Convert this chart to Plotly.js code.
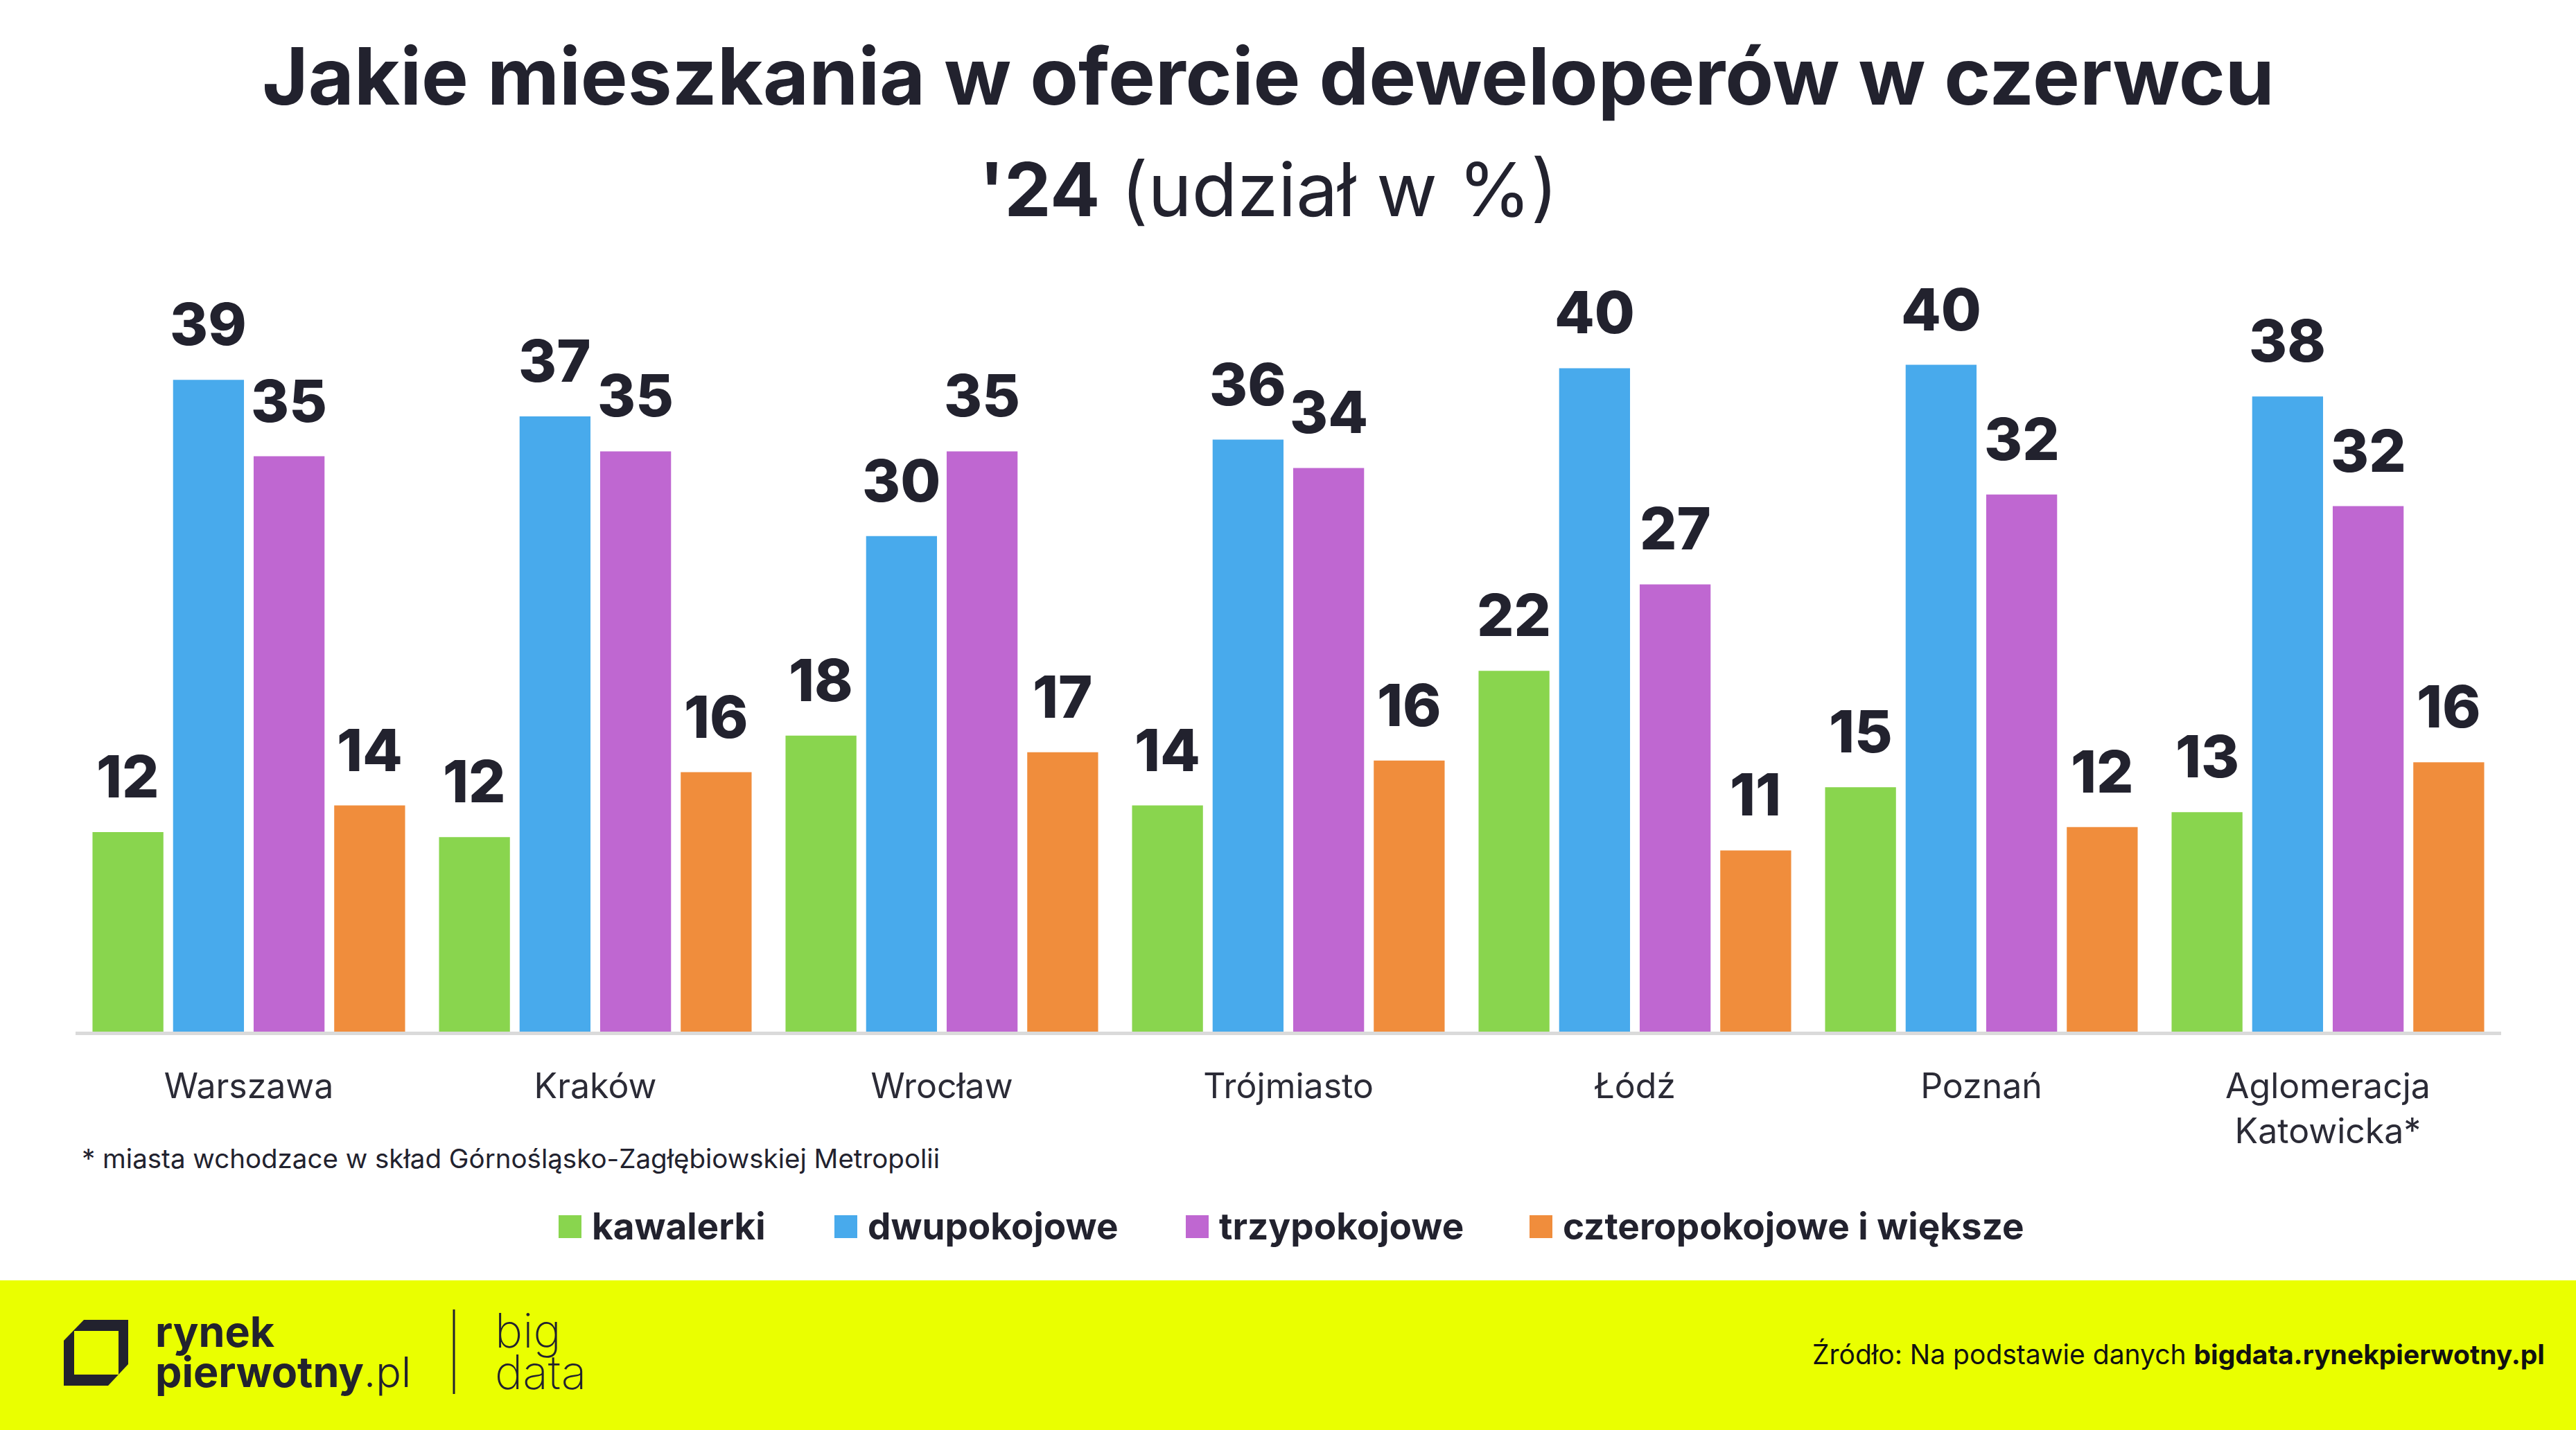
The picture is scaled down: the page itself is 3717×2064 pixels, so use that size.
<!DOCTYPE html>
<html>
<head>
<meta charset="utf-8">
<script src="https://cdn.plot.ly/plotly-3.0.1.min.js"></script>
<style>html,body{margin:0;padding:0;background:#fff;}#chart{width:3717px;height:2064px;}</style>
</head>
<body>
<div id="chart"></div>
<script>
// ---- data ----
const categories = ['Warszawa', 'Kraków', 'Wrocław', 'Trójmiasto', 'Łódź', 'Poznań', 'Aglomeracja<br>Katowicka*'];
const seriesNames = ['kawalerki', 'dwupokojowe', 'trzypokojowe', 'czteropokojowe i większe'];
const kawalerki = [12.0, 11.7, 17.8, 13.6, 21.7, 14.7, 13.2];
const dwupokojowe = [39.2, 37.0, 29.8, 35.6, 39.9, 40.1, 38.2];
const trzypokojowe = [34.6, 34.9, 34.9, 33.9, 26.9, 32.3, 31.6];
const czteropokojowe = [13.6, 15.6, 16.8, 16.3, 10.9, 12.3, 16.2];
const seriesValues = [kawalerki, dwupokojowe, trzypokojowe, czteropokojowe];
const colors = ['#89d54e', '#48aaec', '#bf67d1', '#f08d3c'];

// ---- geometry ----
const W = 3717, H = 2064;
const mL = 109, mR = 108, mT = 409, mB = 575;
const plotW = W - mL - mR, plotH = H - mT - mB;
const yMax = 45;
const bargap = 0.07, bargroupgap = 0.12;
const px2x = px => (px - mL) / plotW;
const py2y = py => (H - mB - py) / plotH;
const ink = '#22222e';
const FONT = 'Inter, "Noto Sans", sans-serif';

const traces = seriesValues.map((vals, i) => ({
  type: 'bar',
  name: seriesNames[i],
  x: categories,
  y: vals,
  marker: {color: colors[i], line: {width: 0}},
  hoverinfo: 'skip',
  showlegend: false
}));

// value labels above bars
const annotations = [];
const catPx = plotW / categories.length;
const slotPx = catPx * (1 - bargap) / seriesValues.length;
seriesValues.forEach((vals, i) => {
  vals.forEach((v, j) => {
    annotations.push({
      x: categories[j], y: v, xref: 'x', yref: 'y',
      xshift: (i - (seriesValues.length - 1) / 2) * slotPx,
      yshift: 28,
      yanchor: 'bottom', xanchor: 'center',
      text: String(Math.round(v)),
      showarrow: false,
      font: {family: FONT, size: 84, weight: 800, color: ink}
    });
  });
});

// subtitle line
annotations.push({
  xref: 'paper', yref: 'paper', x: px2x(1830), y: py2y(273), xanchor: 'center', yanchor: 'middle',
  text: "<b>'24</b> (udział w %)", showarrow: false,
  font: {family: FONT, size: 107, weight: 400, color: ink}
});

// footnote
annotations.push({
  xref: 'paper', yref: 'paper', x: px2x(116), y: py2y(1672), xanchor: 'left', yanchor: 'middle',
  text: '* miasta wchodzace w skład Górnośląsko-Zagłębiowskiej Metropolii', showarrow: false,
  font: {family: FONT, size: 38.5, weight: 400, color: ink}
});

// manual legend
const shapes = [];
const legendRectX = [806, 1204, 1711, 2207];
const legendLabels = ['kawalerki', 'dwupokojowe', 'trzypokojowe', 'czteropokojowe i większe'];
legendRectX.forEach((lx, i) => {
  shapes.push({type: 'rect', xref: 'paper', yref: 'paper', x0: px2x(lx), x1: px2x(lx + 33),
    y0: py2y(1754), y1: py2y(1787), fillcolor: colors[i], line: {width: 0}});
  annotations.push({xref: 'paper', yref: 'paper', x: px2x(lx + 46), y: py2y(1770), xanchor: 'left', yanchor: 'middle',
    text: legendLabels[i], showarrow: false, font: {family: FONT, size: 53, weight: 700, color: ink}});
});

// yellow footer band
shapes.push({type: 'rect', xref: 'paper', yref: 'paper', x0: px2x(0), x1: px2x(W), y0: py2y(1848), y1: py2y(H),
  fillcolor: '#eaff00', line: {width: 0}, layer: 'below'});
// logo icon
const P = (a, b) => px2x(a) + ',' + py2y(b);
shapes.push({type: 'path', xref: 'paper', yref: 'paper',
  path: 'M' + P(92, 1935) + ' L' + P(121, 1905) + ' L' + P(185, 1905) + ' L' + P(185, 1969) + ' L' + P(156, 2000) + ' L' + P(92, 2000) + ' Z',
  fillcolor: ink, line: {width: 0}});
shapes.push({type: 'rect', xref: 'paper', yref: 'paper', x0: px2x(107), x1: px2x(171), y0: py2y(1921), y1: py2y(1984),
  fillcolor: '#eaff00', line: {width: 0}});
// separator
shapes.push({type: 'line', xref: 'paper', yref: 'paper', x0: px2x(655), x1: px2x(655), y0: py2y(1890), y1: py2y(2012),
  line: {color: ink, width: 3}});

annotations.push({xref: 'paper', yref: 'paper', x: px2x(222), y: py2y(1922), xanchor: 'left', yanchor: 'middle',
  text: '<b>rynek</b>', showarrow: false, font: {family: FONT, size: 61, color: ink}});
annotations.push({xref: 'paper', yref: 'paper', x: px2x(222), y: py2y(1980), xanchor: 'left', yanchor: 'middle',
  text: '<b>pierwotny</b>.pl', showarrow: false, font: {family: FONT, size: 61, weight: 300, color: ink}});
annotations.push({xref: 'paper', yref: 'paper', x: px2x(712), y: py2y(1920), xanchor: 'left', yanchor: 'middle',
  text: 'big', showarrow: false, font: {family: FONT, size: 68, weight: 200, color: ink}});
annotations.push({xref: 'paper', yref: 'paper', x: px2x(712), y: py2y(1980), xanchor: 'left', yanchor: 'middle',
  text: 'data', showarrow: false, font: {family: FONT, size: 68, weight: 200, color: ink}});
// source
annotations.push({xref: 'paper', yref: 'paper', x: px2x(3674), y: py2y(1954), xanchor: 'right', yanchor: 'middle',
  text: 'Źródło: Na podstawie danych <b>bigdata.rynekpierwotny.pl</b>', showarrow: false,
  font: {family: FONT, size: 39, color: '#111'}});

const layout = {
  width: W, height: H,
  margin: {l: mL, r: mR, t: mT, b: mB, pad: 0},
  paper_bgcolor: '#ffffff', plot_bgcolor: '#ffffff',
  barmode: 'group', bargap: bargap, bargroupgap: bargroupgap,
  title: {
    text: '<b>Jakie mieszkania w ofercie deweloperów w czerwcu</b>',
    xref: 'paper', x: px2x(1830), xanchor: 'center',
    yref: 'container', y: 1 - 111 / H, yanchor: 'middle',
    font: {family: FONT, size: 114, color: ink}
  },
  xaxis: {
    showline: true, linecolor: '#dadada', linewidth: 5,
    showgrid: false, zeroline: false,
    ticks: 'outside', ticklen: 31, tickcolor: 'rgba(0,0,0,0)',
    tickfont: {family: FONT, size: 50, color: '#2b2b36'}
  },
  yaxis: {range: [0, yMax], visible: false, showgrid: false, zeroline: false, fixedrange: true},
  showlegend: false,
  shapes: shapes,
  annotations: annotations,
  font: {family: FONT, color: ink}
};

Plotly.newPlot('chart', traces, layout, {displayModeBar: false, staticPlot: true});
</script>
</body>
</html>
